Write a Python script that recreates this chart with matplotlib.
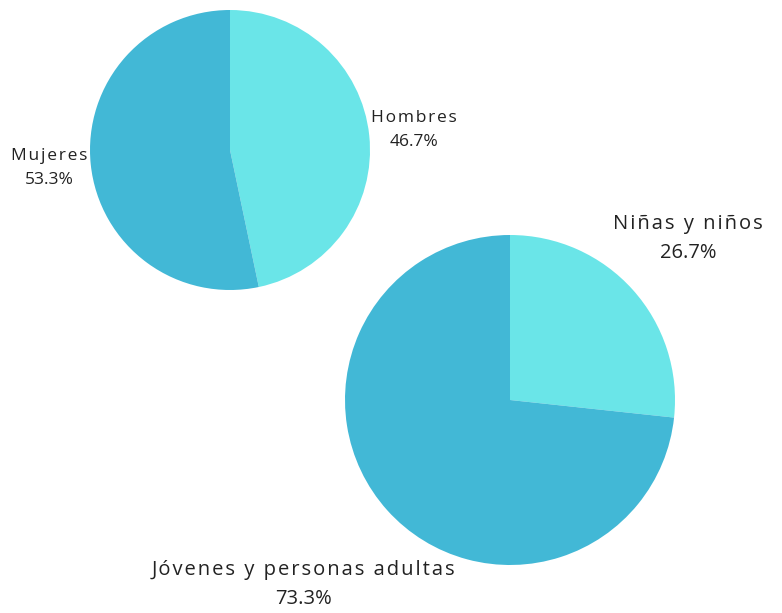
import matplotlib
matplotlib.use("Agg")
import matplotlib.pyplot as plt

# data
sexo_labels = ["Hombres", "Mujeres"]
sexo_values = [46.7, 53.3]
edad_labels = ["Niñas y niños", "Jóvenes y personas adultas"]
edad_values = [26.7, 73.3]

cyan = "#6AE5E8"
blue = "#42B8D6"
txt = "#222222"

W, H = 782, 613
fig = plt.figure(figsize=(W / 100, H / 100), dpi=100)


def px_axes(x0, y0, x1, y1):
    # pixel box (top-left origin) -> axes
    return fig.add_axes([x0 / W, 1 - y1 / H, (x1 - x0) / W, (y1 - y0) / H])


def label(x, y, name, val, size):
    spaced = "\u200a".join(name)  # the original labels are letter-spaced
    fig.text(x / W, 1 - y / H, f"{spaced}\n{val:.1f}%", ha="center", va="center",
             fontsize=size, color=txt, linespacing=1.6,
             family=["Open Sans", "DejaVu Sans"])


def draw_pie(ax, values):
    ax.pie(values, colors=[cyan, blue], startangle=90, counterclock=False,
           radius=1, wedgeprops=dict(linewidth=0))
    ax.set_xlim(-1, 1)
    ax.set_ylim(-1, 1)
    ax.set_aspect("equal")
    ax.axis("off")


ax1 = px_axes(90, 10, 370, 290)
draw_pie(ax1, sexo_values)

ax2 = px_axes(345, 235, 675, 565)
draw_pie(ax2, edad_values)

label(414, 130, sexo_labels[0], sexo_values[0], 12.5)
label(49, 168, sexo_labels[1], sexo_values[1], 12.5)
label(688, 238, edad_labels[0], edad_values[0], 14.5)
label(303, 584, edad_labels[1], edad_values[1], 14.5)

fig.savefig("out.png", dpi=100, facecolor="white")
